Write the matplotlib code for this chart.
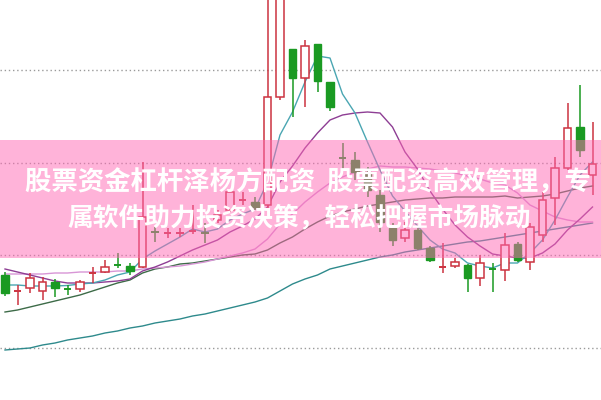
import matplotlib
matplotlib.use("Agg")
import matplotlib.pyplot as plt
from matplotlib.patches import Rectangle

# ---- data (price units, arbitrary scale) ----
opens = [12.5, 10.9, 11.2, 10.9, 11.8, 11.15, 11.1, 12.65, 12.8, 13.55,
         13.4, 13.3, 16.85, 16.65, 16.7, 16.9, 16.75, 18.0, 19.0, 19.95,
         19.8, 19.5, 30.3, 35.1, 32.2, 35.6, 31.8, 24.3, 24.0, 22.8,
         20.5, 17.2, 16.2, 17.0, 15.2, 13.25, 13.4, 13.5, 12.2, 13.15,
         13.0, 15.6, 13.8, 16.5, 20.2, 23.2, 27.3, 22.5]
highs = [12.8, 11.5, 12.7, 12.3, 12.1, 11.5, 12.0, 13.3, 14.0, 14.7,
         13.7, 23.8, 17.3, 17.2, 17.2, 19.5, 17.7, 19.0, 21.0, 20.8,
         20.3, 41.0, 43.0, 35.1, 36.0, 35.6, 31.8, 25.7, 24.8, 23.3,
         21.0, 17.7, 17.8, 17.2, 15.4, 15.7, 14.2, 13.6, 14.5, 13.7,
         16.7, 15.8, 17.7, 20.8, 24.3, 29.7, 31.5, 27.8]
lows = [10.4, 9.5, 10.7, 10.0, 10.3, 10.5, 10.8, 11.7, 12.7, 13.2,
        12.5, 13.2, 15.8, 16.2, 16.3, 16.6, 15.7, 17.7, 18.7, 19.5,
        19.0, 19.2, 30.0, 28.3, 29.3, 30.8, 28.9, 23.0, 22.0, 20.3,
        16.8, 15.4, 15.8, 15.0, 13.8, 12.7, 13.2, 10.8, 11.4, 10.8,
        11.9, 13.8, 13.0, 15.8, 17.5, 23.0, 24.3, 20.5]
closes = [10.7, 10.95, 12.2, 11.8, 11.2, 11.1, 11.8, 12.7, 13.3, 13.45,
          12.9, 18.3, 16.75, 16.7, 16.8, 17.0, 16.65, 18.5, 20.8, 20.0,
          19.3, 30.3, 42.0, 32.2, 35.4, 31.9, 29.3, 24.2, 22.8, 21.0,
          17.8, 16.0, 17.0, 15.2, 14.0, 13.3, 13.8, 12.2, 13.7, 13.05,
          15.5, 14.0, 17.3, 20.0, 23.2, 27.2, 25.0, 23.6]

ma5 = [11.5, 11.5, 11.4, 11.4, 11.4, 11.45, 11.6, 11.7, 12.0, 12.5,
       12.8, 14.1, 14.9, 15.6, 16.3, 17.1, 16.8, 17.1, 18.0, 18.6,
       19.1, 21.8, 26.5, 28.8, 31.8, 34.4, 34.2, 30.6, 28.7, 25.8,
       23.0, 20.4, 18.9, 17.4, 16.0, 15.1, 14.7, 13.7, 13.4, 13.2,
       13.7, 13.7, 14.7, 16.0, 18.0, 20.3, 22.5, 23.8]
ma10 = [13.1, 12.8, 12.5, 12.2, 11.9, 11.7, 11.7, 11.7, 11.8, 11.9,
        12.1, 12.9, 13.3, 13.8, 14.4, 15.0, 15.5, 16.0, 16.8, 17.4,
        18.1, 19.3, 21.8, 23.4, 25.2, 26.7, 28.0, 28.5, 28.7, 28.8,
        28.7, 27.3, 24.8, 23.1, 20.9, 19.1, 17.5, 16.3, 15.4, 14.6,
        14.4, 14.2, 14.2, 14.7, 15.6, 17.0, 18.1, 19.3]
ma20 = [12.6, 12.6, 12.6, 12.6, 12.7, 12.7, 12.8, 12.8, 12.8, 12.9,
        12.9, 13.1, 13.2, 13.3, 13.4, 13.6, 13.8, 14.1, 14.4, 14.7,
        15.1, 16.1, 17.6, 18.6, 19.8, 20.8, 21.7, 22.3, 22.8, 23.1,
        23.4, 23.3, 23.3, 23.2, 23.1, 22.9, 22.7, 22.4, 22.1, 21.7,
        21.5, 20.7, 19.5, 18.9, 18.3, 18.0, 17.8, 17.8]
ma30 = [8.8, 9.0, 9.3, 9.6, 9.9, 10.2, 10.5, 10.9, 11.3, 11.7,
        12.0, 12.7, 13.1, 13.3, 13.6, 13.7, 13.9, 14.1, 14.3, 14.5,
        14.6, 15.0, 15.7, 16.3, 17.1, 17.8, 18.4, 18.8, 19.1, 19.4,
        19.6, 19.8, 20.0, 20.1, 20.2, 20.2, 20.3, 20.3, 20.3, 20.3,
        20.4, 20.2, 20.3, 20.4, 20.6, 20.9, 21.2, 21.4]
ma60 = [5.0, 5.1, 5.2, 5.5, 5.7, 6.0, 6.2, 6.4, 6.7, 6.9,
        7.2, 7.4, 7.7, 7.9, 8.1, 8.4, 8.6, 8.9, 9.2, 9.5,
        9.8, 10.2, 10.9, 11.6, 12.1, 12.5, 13.1, 13.4, 13.7, 14.0,
        14.3, 14.5, 14.8, 15.0, 15.2, 15.4, 15.6, 15.8, 15.9, 16.1,
        16.3, 16.5, 16.7, 16.9, 17.1, 17.3, 17.5, 17.7]

grid_levels = [5.2, 14.47, 23.73, 33.0]

title_line1 = "股票资金杠杆泽杨方配资  股票配资高效管理，专"
title_line2 = "属软件助力投资决策，轻松把握市场脉动"

# ---- styles ----
RED = "#cc3340"
GREEN = "#1a9a22"
W = 0.62

fig = plt.figure(figsize=(6.01, 4.00), dpi=100)
fig.patch.set_facecolor("white")
ax = fig.add_axes([0, 0, 1, 1])
ax.set_xlim(-0.4, 47.68)
ax.set_ylim(0, 40)
ax.axis("off")

for g in grid_levels:
    ax.axhline(g, color="#9a9a9a", lw=1.0, linestyle=(0, (1, 2)), zorder=1)

x = list(range(len(closes)))
ax.plot(x, ma60, color="#2e8a8c", lw=1.0, zorder=2)
ax.plot(x, ma30, color="#3d6b48", lw=1.0, zorder=2)
ax.plot(x, ma20, color="#d896d6", lw=1.0, zorder=2)
ax.plot(x, ma10, color="#8e3e94", lw=1.0, zorder=2)
ax.plot(x, ma5, color="#4aa6b2", lw=1.0, zorder=2)

for i, (o, h, l, c) in enumerate(zip(opens, highs, lows, closes)):
    up = c >= o
    col = RED if up else GREEN
    lo_b, hi_b = min(o, c), max(o, c)
    if hi_b - lo_b < 0.15:
        ax.vlines(i, l, h, color=col, lw=1.1, zorder=3)
        ax.hlines((o + c) / 2, i - W / 2, i + W / 2, color=col, lw=1.4, zorder=3)
        continue
    if up:
        ax.vlines(i, hi_b, h, color=col, lw=1.1, zorder=3)
        ax.vlines(i, l, lo_b, color=col, lw=1.1, zorder=3)
        ax.add_patch(Rectangle((i - W / 2, lo_b), W, hi_b - lo_b,
                               facecolor="white", edgecolor=col, lw=1.1, zorder=3))
    else:
        ax.vlines(i, l, h, color=col, lw=1.1, zorder=3)
        ax.add_patch(Rectangle((i - W / 2, lo_b), W, hi_b - lo_b,
                               facecolor=col, edgecolor=col, lw=1.0, zorder=3))

# pink banner overlay
fig.add_artist(Rectangle((0, 0.355), 1, 0.295, transform=fig.transFigure,
                         facecolor=(1.0, 0.41, 0.71), alpha=0.5, lw=0, zorder=10))
fam = ["Noto Sans CJK SC", "DejaVu Sans"]
fig.text(25 / 601, 0.5425, title_line1, color="white", fontsize=19, fontweight="bold",
         family=fam, ha="left", va="center", zorder=11)
fig.text(0.498, 0.455, title_line2, color="white", fontsize=18.5, fontweight="bold",
         family=fam, ha="center", va="center", zorder=11)

fig.savefig("out.png", dpi=100)
